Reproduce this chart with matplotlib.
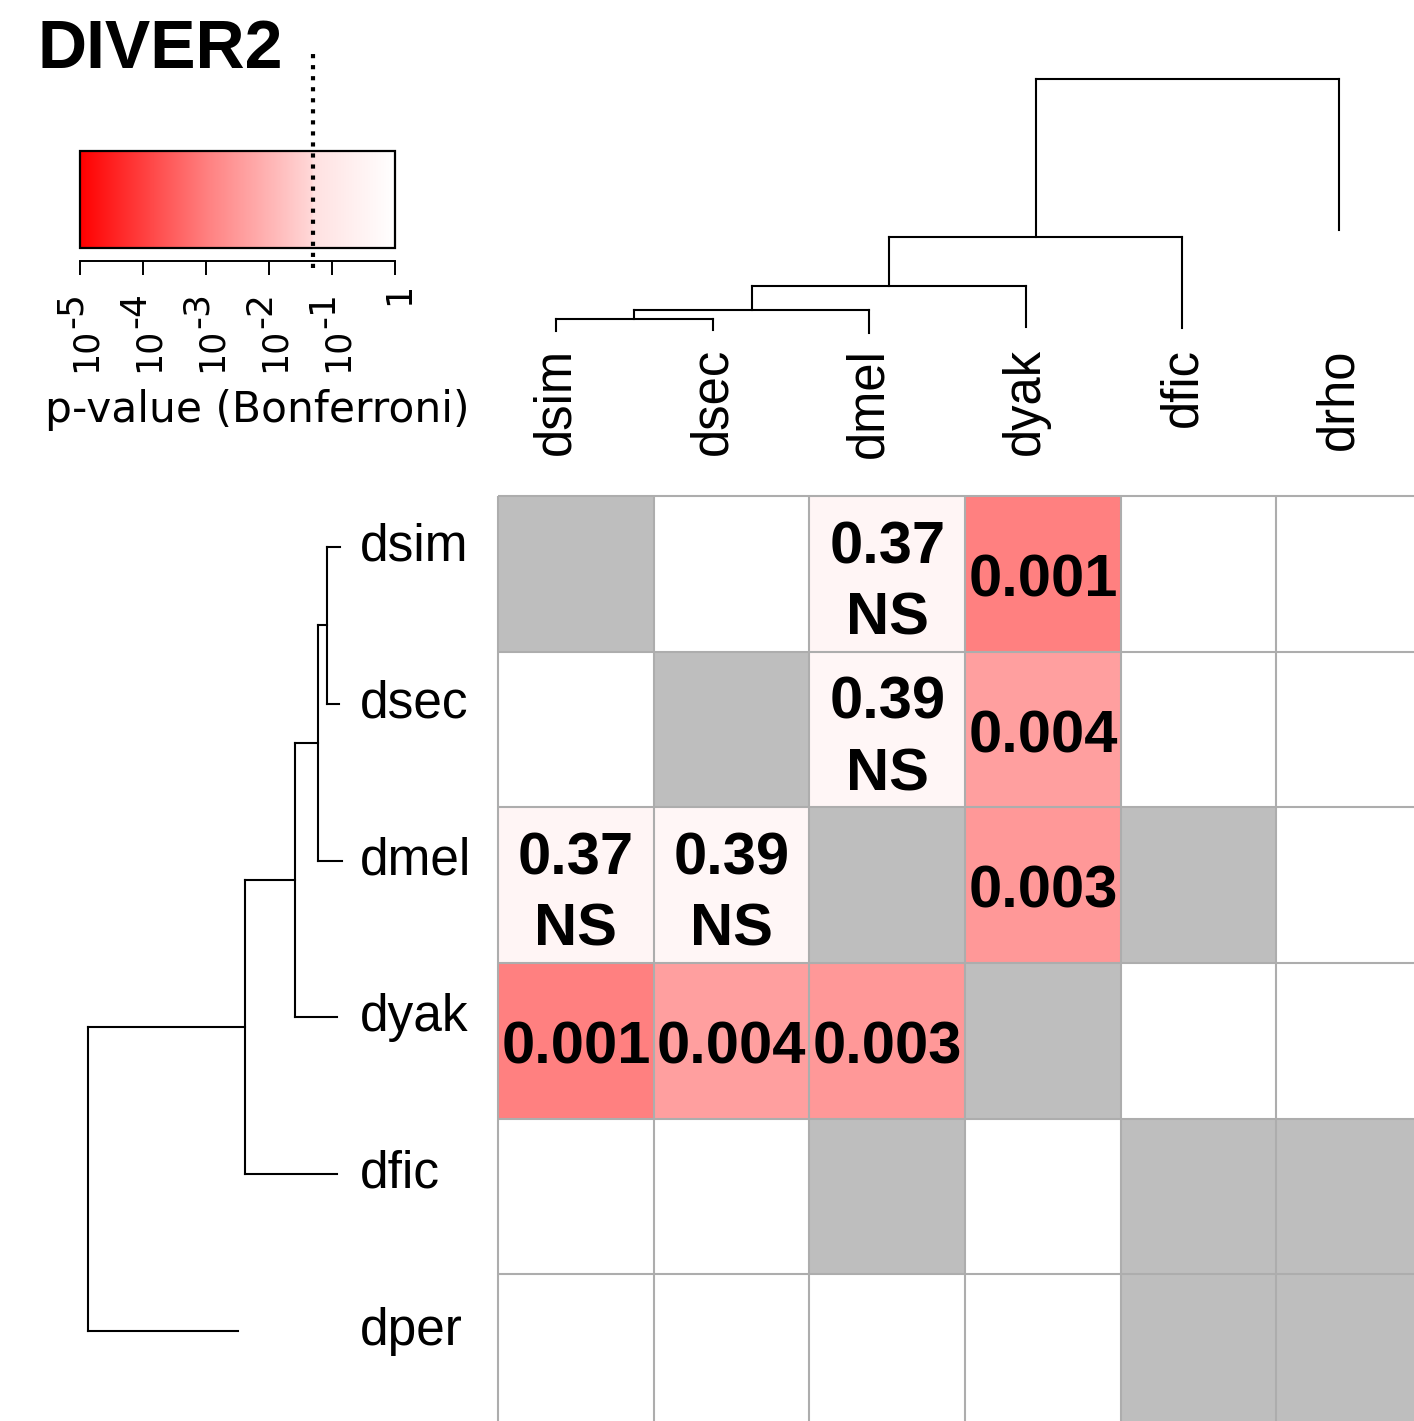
import numpy as np
import matplotlib
matplotlib.use('Agg')
import matplotlib.pyplot as plt
from matplotlib.colors import LinearSegmentedColormap, ListedColormap, Normalize
from matplotlib.patches import Rectangle
import matplotlib.transforms as mtransforms

W, H = 1414, 1421

row_labels = ['dsim', 'dsec', 'dmel', 'dyak', 'dfic', 'dper']
col_labels = ['dsim', 'dsec', 'dmel', 'dyak', 'dfic', 'drho']

nan = np.nan
# Bonferroni p-values (nan = not shown)
pvals = np.array([
    [nan,   nan,   0.37,  0.001, nan, nan],
    [nan,   nan,   0.39,  0.004, nan, nan],
    [0.37,  0.39,  nan,   0.003, nan, nan],
    [0.001, 0.004, 0.003, nan,   nan, nan],
    [nan,   nan,   nan,   nan,   nan, nan],
    [nan,   nan,   nan,   nan,   nan, nan],
])
# grey cells
grey = np.array([
    [1, 0, 0, 0, 0, 0],
    [0, 1, 0, 0, 0, 0],
    [0, 0, 1, 0, 1, 0],
    [0, 0, 0, 1, 0, 0],
    [0, 0, 1, 0, 1, 1],
    [0, 0, 0, 0, 1, 1],
])

alpha = 0.05
cbar_ticks = [-5, -4, -3, -2, -1, 0]

# dendrograms: (child a, child b, height), leaves 0..5, new nodes from 6
top_links = [(0, 1, 11), (6, 2, 20), (7, 3, 44), (8, 4, 93), (9, 5, 251)]
top_tips = [-1, 0, -3, 3, 2, 100]
left_links = [(0, 1, 13), (6, 2, 22), (7, 3, 45), (8, 4, 95), (9, 5, 252)]
left_tips = [0, 1, -2, 3, 3, 102]

# colour scale on log10(p): red -> pale at alpha, pale pink -> white above
fa = (np.log10(alpha) + 5) / 5
gb = ((0.0, 0.0, 0.0), (0.4, 0.5, 0.5), (fa, 0.85, 0.88), (1.0, 1.0, 1.0))
cmap = LinearSegmentedColormap('pv', {'red': ((0, 1, 1), (1, 1, 1)),
                                      'green': gb, 'blue': gb})
cmap.set_bad('white')
norm = Normalize(-5, 0)

fig = plt.figure(figsize=(W / 100, H / 100), dpi=100)


def fbox(x0, y0, x1, y1):
    return [x0 / W, 1 - y1 / H, (x1 - x0) / W, (y1 - y0) / H]


# heatmap
cell = 155.7
ax = fig.add_axes(fbox(498, 496, 498 + 6 * cell, 496 + 6 * cell))
logp = np.ma.masked_invalid(np.log10(pvals))
ax.pcolormesh(np.arange(7), np.arange(7), logp, cmap=cmap, norm=norm)
ax.pcolormesh(np.arange(7), np.arange(7), np.ma.masked_where(grey == 0, grey),
              cmap=ListedColormap(['#BEBEBE']))
ax.hlines(range(7), 0, 6, color='#ADADAD', lw=1.5, clip_on=False)
ax.vlines(range(7), 0, 6, color='#ADADAD', lw=1.5, clip_on=False)
ax.set_xlim(0, 6)
ax.set_ylim(6, 0)
ax.axis('off')
for i in range(6):
    for j in range(6):
        p = pvals[i, j]
        if np.isnan(p):
            continue
        if p >= alpha:
            s, dy = f'{p:g}\nNS', 0.56
        else:
            s, dy = f'{p:g}', 0.545
        ax.text(j + 0.5, i + dy, s, ha='center', va='center', fontsize=43,
                fontweight='bold', family='Liberation Sans', linespacing=1.38)


def draw_dendro(a, links, tips, orient):
    pos = {k: k + 0.5 for k in range(6)}
    hgt = {k: tips[k] for k in range(6)}
    node = 6
    for c1, c2, h in links:
        segs = [([pos[c], pos[c]], [hgt[c], h]) for c in (c1, c2)]
        segs.append(([pos[c1], pos[c2]], [h, h]))
        for sx, sy in segs:
            if orient == 'top':
                a.plot(sx, sy, color='black', lw=1.5)
            else:
                a.plot(sy, sx, color='black', lw=1.5)
        pos[node] = (pos[c1] + pos[c2]) / 2
        hgt[node] = h
        node += 1


# top dendrogram
sp = 156.6
axt = fig.add_axes(fbox(556 - sp / 2, 60, 556 + 5.5 * sp, 345))
draw_dendro(axt, top_links, top_tips, 'top')
axt.set_xlim(0, 6)
axt.set_ylim(-15, 270)
axt.axis('off')
for j, lab in enumerate(col_labels):
    axt.text(j + 0.5, (345 - 348) / 285, lab, transform=axt.get_xaxis_transform(),
             rotation=90, ha='center', va='top', fontsize=36.5,
             family='Liberation Sans')

# left dendrogram
sp = 156.8
axl = fig.add_axes(fbox(60, 547 - sp / 2, 360, 547 + 5.5 * sp))
draw_dendro(axl, left_links, left_tips, 'left')
axl.set_xlim(280, -20)
axl.set_ylim(6, 0)
axl.axis('off')
for i, lab in enumerate(row_labels):
    axl.text(1.0, i + 0.5, lab, transform=axl.get_yaxis_transform(),
             ha='left', va='center', fontsize=37, family='Liberation Sans')

# colour key
cax = fig.add_axes(fbox(80, 151, 395, 248))
grad = np.linspace(-5, 0, 512).reshape(1, -1)
cax.imshow(grad, cmap=cmap, norm=norm, aspect='auto', extent=(-5, 0, 0, 1))
cax.set_xlim(-5, 0)
cax.set_ylim(0, 1)
cax.add_patch(Rectangle((0, 0), 1, 1, transform=cax.transAxes, fill=False,
                        lw=1.6, ec='black', clip_on=False, zorder=5))
for s in ('top', 'left', 'right'):
    cax.spines[s].set_visible(False)
cax.spines['bottom'].set_position(('outward', 9))
cax.spines['bottom'].set_linewidth(1.4)
cax.set_yticks([])
cax.set_xticks(cbar_ticks)
cax.tick_params(axis='x', direction='out', length=10, width=1.4, labelbottom=False)
tr = cax.get_xaxis_transform()
for t in cbar_ticks:
    if t == 0:
        cax.annotate('1', xy=(t, 0), xycoords=tr, xytext=(4, -35),
                     textcoords='offset pixels', rotation=90, ha='center',
                     va='top', fontsize=25, family='DejaVu Sans')
    else:
        cax.annotate(f'-{-t}', xy=(t, 0), xycoords=tr, xytext=(-8, -80),
                     textcoords='offset pixels', rotation=90, ha='center',
                     va='bottom', fontsize=26, family='DejaVu Sans')
        cax.annotate('10', xy=(t, 0), xycoords=tr, xytext=(6, -80),
                     textcoords='offset pixels', rotation=90, ha='center',
                     va='top', fontsize=25, family='DejaVu Sans')
xa = np.log10(alpha)
cax.plot([xa, xa], [(248 - 268) / 97, (248 - 48) / 97],
         transform=mtransforms.blended_transform_factory(cax.transData, cax.transAxes),
         color='black', ls=':', lw=3, clip_on=False, zorder=6)

fig.text(257 / W, 1 - 422 / H, 'p-value (Bonferroni)', ha='center', va='baseline',
         fontsize=30.5, family='DejaVu Sans')
fig.text(38 / W, 1 - 68 / H, 'DIVER2', ha='left', va='baseline', fontsize=49,
         fontweight='bold', family='Liberation Sans')

fig.savefig('out.png', dpi=100)
